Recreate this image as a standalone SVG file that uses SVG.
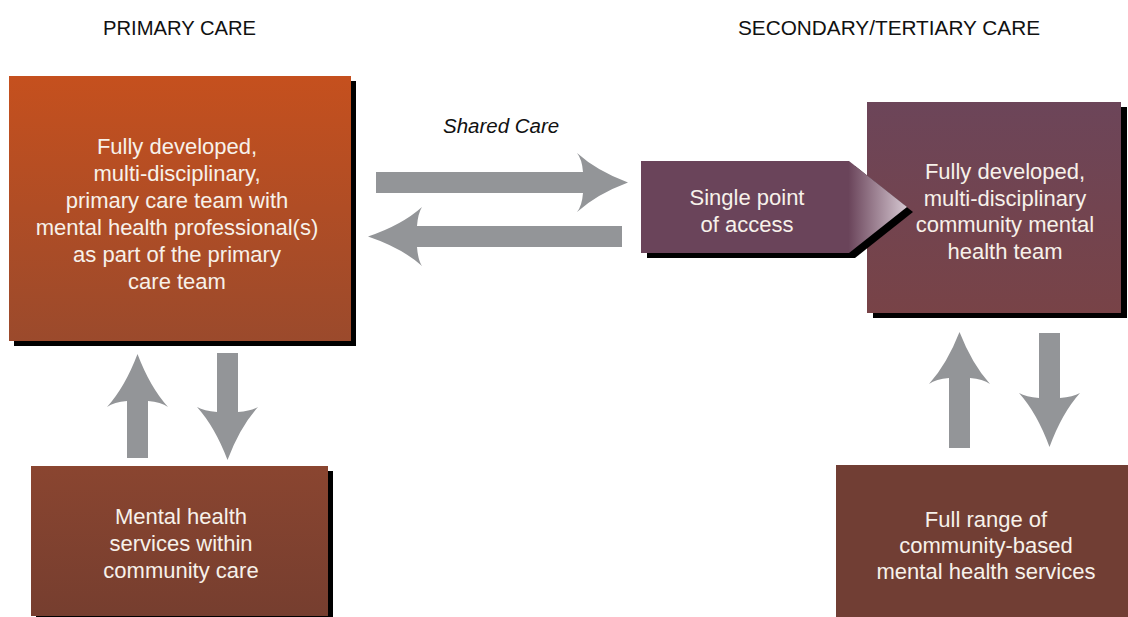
<svg xmlns="http://www.w3.org/2000/svg" width="1128" height="617" viewBox="0 0 1128 617">
<style>
.hd{font-family:"Liberation Sans",Arial,sans-serif;font-size:21px;fill:#111}
.it{font-family:"Liberation Sans",Arial,sans-serif;font-size:20.5px;font-style:italic;fill:#111}
.tx{font-family:"Liberation Sans",Arial,sans-serif;font-size:22px;fill:#f7f1ea;text-anchor:middle}
.sh{fill:#000}
.arr{fill:#939598}
</style>
<defs>
<linearGradient id="gPrim" x1="0" y1="0" x2="0" y2="1">
<stop offset="0" stop-color="#c5501e"/><stop offset="1" stop-color="#9b4a2c"/>
</linearGradient>
<linearGradient id="gMhs" x1="0" y1="0" x2="0" y2="1">
<stop offset="0" stop-color="#8a4530"/><stop offset="1" stop-color="#763e2f"/>
</linearGradient>
<linearGradient id="gCmht" x1="0" y1="0" x2="0" y2="1">
<stop offset="0" stop-color="#6c4559"/><stop offset="1" stop-color="#784347"/>
</linearGradient>
<linearGradient id="gSpa" gradientUnits="userSpaceOnUse" x1="641" y1="0" x2="907" y2="0">
<stop offset="0" stop-color="#6a445a"/><stop offset="0.78" stop-color="#6a445a"/><stop offset="1" stop-color="#d6c8d2"/>
</linearGradient>
</defs>

<text class="hd" x="103" y="35" textLength="153" lengthAdjust="spacingAndGlyphs">PRIMARY CARE</text>
<text class="hd" x="738" y="35" textLength="302" lengthAdjust="spacingAndGlyphs">SECONDARY/TERTIARY CARE</text>
<text class="it" x="443" y="133">Shared Care</text>

<g id="primary-care-team">
<rect class="sh" x="14" y="81" width="342" height="265"/>
<rect x="9" y="76" width="342" height="265" fill="url(#gPrim)"/>
<text class="tx" x="177" y="154">Fully developed,</text>
<text class="tx" x="177" y="181">multi-disciplinary,</text>
<text class="tx" x="177" y="208">primary care team with</text>
<text class="tx" x="177" y="235">mental health professional(s)</text>
<text class="tx" x="177" y="262">as part of the primary</text>
<text class="tx" x="177" y="289">care team</text>
</g>

<g id="community-care-services">
<rect class="sh" x="36" y="471" width="297" height="150"/>
<rect x="31" y="466" width="297" height="150" fill="url(#gMhs)"/>
<text class="tx" x="181" y="524">Mental health</text>
<text class="tx" x="181" y="551">services within</text>
<text class="tx" x="181" y="578">community care</text>
</g>

<g id="cmht">
<rect class="sh" x="873" y="107" width="254" height="211"/>
<rect x="867" y="102" width="254" height="211" fill="url(#gCmht)"/>
<text class="tx" x="1005" y="179">Fully developed,</text>
<text class="tx" x="1005" y="206">multi-disciplinary</text>
<text class="tx" x="1005" y="232">community mental</text>
<text class="tx" x="1005" y="259">health team</text>
</g>

<g id="single-point-of-access">
<polygon class="sh" points="647,166 855,166 913,212 855,258 647,258"/>
<polygon points="641,161 849,161 907,207 849,253 641,253" fill="url(#gSpa)"/>
<text class="tx" x="747" y="205">Single point</text>
<text class="tx" x="747" y="232">of access</text>
</g>

<g id="community-based-services">
<rect x="836" y="465" width="300" height="160" fill="#713e34"/>
<text class="tx" x="986" y="527">Full range of</text>
<text class="tx" x="986" y="553">community-based</text>
<text class="tx" x="986" y="579">mental health services</text>
</g>

<g id="connectors">
<path class="arr" d="M376,172 L583,172 Q582,159 577,153 Q597,171 628,182.5 Q597,194 577,212 Q582,206 583,193 L376,193 Z"/>
<path class="arr" d="M622,226 L417,226 Q418,213 422,207 Q402,225 368,236.5 Q402,248 422,266 Q418,260 417,247 L622,247 Z"/>
<path class="arr" d="M127,458 L127,401 Q114,402 107,407 Q125,387 137.5,354 Q150,387 168,407 Q161,402 148,401 L148,458 Z"/>
<path class="arr" d="M217,353 L238,353 L238,412 Q251,411 258,407 Q240,427 227.5,460 Q215,427 197,407 Q204,411 217,412 Z"/>
<path class="arr" d="M949,448 L949,378 Q936,379 929,384 Q947,364 959.5,332 Q972,364 990,384 Q983,379 970,378 L970,448 Z"/>
<path class="arr" d="M1039,333 L1060,333 L1060,398 Q1073,397 1080,393 Q1062,413 1049.5,447 Q1037,413 1019,393 Q1026,397 1039,398 Z"/>
</g>
</svg>
